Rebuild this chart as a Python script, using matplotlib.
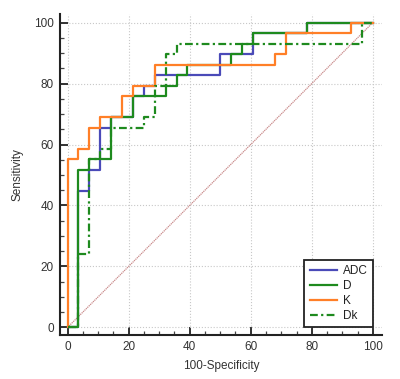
import matplotlib.pyplot as plt
from matplotlib.ticker import MultipleLocator

plt.rcParams['font.family'] = ['Liberation Sans', 'DejaVu Sans']

# ---------- DATA: ROC corner points, 100-Specificity (x) vs Sensitivity (y), in % ----------
adc_x = [0, 3.57, 7.14, 10.71, 14.29, 21.43, 25.0, 28.57, 50.0, 60.71, 78.57, 100]
adc_y = [0, 44.83, 51.72, 65.52, 68.97, 75.86, 79.31, 82.76, 89.66, 96.55, 100, 100]

d_x = [0, 3.57, 7.14, 14.29, 21.43, 32.14, 35.71, 39.29, 53.57, 57.14, 60.71, 78.57, 100]
d_y = [0, 51.72, 55.17, 68.97, 75.86, 79.31, 82.76, 86.21, 89.66, 93.10, 96.55, 100, 100]

k_x = [0, 0, 3.57, 7.14, 10.71, 17.86, 21.43, 28.57, 67.86, 71.43, 92.86, 100]
k_y = [0, 55.17, 58.62, 65.52, 68.97, 75.86, 79.31, 86.21, 89.66, 96.55, 100, 100]

dk_x = [0, 3.57, 7.14, 10.71, 14.29, 25.0, 28.57, 32.14, 35.71, 96.43, 100]
dk_y = [0, 24.14, 55.17, 58.62, 65.52, 68.97, 79.31, 89.66, 93.10, 100, 100]

ticks = [0, 20, 40, 60, 80, 100]

# ---------- PLOT ----------
fig = plt.figure(figsize=(4, 3.79), dpi=100)
ax = fig.add_axes([0.149, 0.116, 0.806, 0.847])

ax.plot([0, 100], [0, 100], color='#c98a8a', lw=0.9, ls=(0, (1, 0.6)), zorder=2)

ax.plot(adc_x, adc_y, drawstyle='steps-post', color='#4a4ab8', lw=1.6, label='ADC', zorder=3)
ax.plot(d_x, d_y, drawstyle='steps-post', color='#1e8a1e', lw=1.6, label='D', zorder=4)
ax.plot(k_x, k_y, drawstyle='steps-post', color='#ff7f27', lw=1.6, label='K', zorder=5)
ax.plot(dk_x, dk_y, drawstyle='steps-post', color='#1e8a1e', lw=1.6,
        ls=(0, (3.5, 1.5, 1, 1.5)), label='Dk', zorder=6)

ax.set_xlim(-2.6, 103)
ax.set_ylim(-2.5, 102.8)
ax.set_xticks(ticks)
ax.set_yticks(ticks)
ax.xaxis.set_minor_locator(MultipleLocator(5))
ax.yaxis.set_minor_locator(MultipleLocator(5))
ax.grid(True, which='major', color='#c8c8c8', ls=':', lw=0.8)

for side in ['top', 'right']:
    ax.spines[side].set_visible(False)
for side in ['left', 'bottom']:
    ax.spines[side].set_linewidth(1.5)
    ax.spines[side].set_color('#222222')

ax.tick_params(which='major', direction='in', length=5.5, width=1.3, color='#222222',
               labelsize=8.5, labelcolor='#333333', pad=4)
ax.tick_params(which='minor', direction='in', length=3, width=0.9, color='#444444')

ax.set_xlabel('100-Specificity', fontsize=8.5, color='#333333', labelpad=5)
ax.set_ylabel('Sensitivity', fontsize=8.5, color='#333333', labelpad=8)

leg = ax.legend(loc='lower right', bbox_to_anchor=(0.972, 0.025), borderaxespad=0,
                fontsize=8.5, handlelength=2.3, handletextpad=0.5, labelspacing=0.25,
                borderpad=0.45, fancybox=False, framealpha=1, edgecolor='#222222')
leg.get_frame().set_linewidth(1.3)
for t in leg.get_texts():
    t.set_color('#222222')

fig.savefig('out.png', dpi=100)
